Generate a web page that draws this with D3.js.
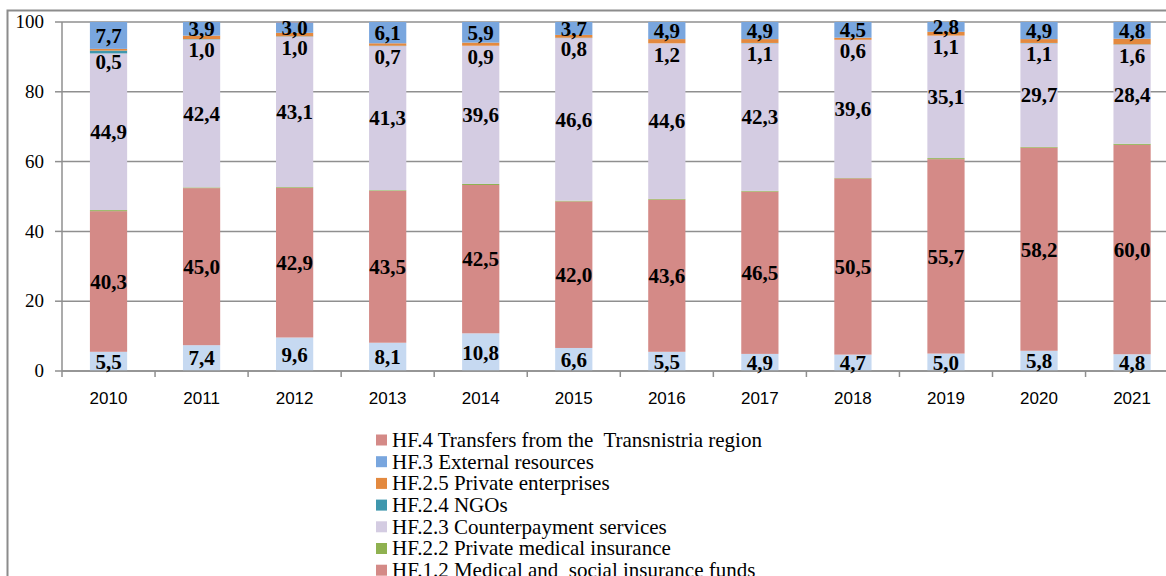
<!DOCTYPE html>
<html>
<head>
<meta charset="utf-8">
<script src="https://cdn.jsdelivr.net/npm/d3@7"></script>
<style>
  html, body { margin: 0; padding: 0; background: #fff; }
  svg { display: block; }
  text { white-space: pre; }
</style>
</head>
<body>
<svg id="chart" width="1166" height="576"></svg>
<script>
// ---- data ----
const years = ["2010","2011","2012","2013","2014","2015","2016","2017","2018","2019","2020","2021"];
const hf11 = [5.5, 7.4, 9.6, 8.1, 10.8, 6.6, 5.5, 4.9, 4.7, 5.0, 5.8, 4.8];
const hf12 = [40.3, 45.0, 42.9, 43.5, 42.5, 42.0, 43.6, 46.5, 50.5, 55.7, 58.2, 60.0];
const hf22 = [0.3, 0.2, 0.2, 0.2, 0.3, 0.2, 0.2, 0.2, 0.1, 0.3, 0.2, 0.3];
const hf23 = [44.9, 42.4, 43.1, 41.3, 39.6, 46.6, 44.6, 42.3, 39.6, 35.1, 29.7, 28.4];
const hf24 = [0.8, 0.1, 0.1, 0.1, 0.0, 0.1, 0.0, 0.1, 0.0, 0.0, 0.1, 0.1];
const hf25 = [0.5, 1.0, 1.0, 0.7, 0.9, 0.8, 1.2, 1.1, 0.6, 1.1, 1.1, 1.6];
const hf3  = [7.7, 3.9, 3.0, 6.1, 5.9, 3.7, 4.9, 4.9, 4.5, 2.8, 4.9, 4.8];
const hf4  = [0.0, 0.0, 0.1, 0.0, 0.0, 0.0, 0.0, 0.0, 0.0, 0.0, 0.0, 0.0];
const yTicks = [0, 20, 40, 60, 80, 100];

// series, bottom to top
const series = [
  {key: "hf11", name: "HF.1.1 State budget", values: hf11, color: "#c6d9f1", label: "center"},
  {key: "hf12", name: "HF.1.2 Medical and  social insurance funds", values: hf12, color: "#d48a87", label: "center"},
  {key: "hf22", name: "HF.2.2 Private medical insurance", values: hf22, color: "#8fb150", label: null},
  {key: "hf23", name: "HF.2.3 Counterpayment services", values: hf23, color: "#d4cce2", label: "center"},
  {key: "hf24", name: "HF.2.4 NGOs", values: hf24, color: "#3f97ad", label: null},
  {key: "hf25", name: "HF.2.5 Private enterprises", values: hf25, color: "#e3893f", label: "below"},
  {key: "hf3",  name: "HF.3 External resources", values: hf3, color: "#79a6de", label: "center"},
  {key: "hf4",  name: "HF.4 Transfers from the  Transnistria region", values: hf4, color: "#d48a87", label: null}
];

const rows = years.map((yr, i) => {
  const r = {year: yr};
  series.forEach(s => r[s.key] = s.values[i]);
  return r;
});
const stacked = d3.stack().keys(series.map(s => s.key))(rows);

// ---- layout ----
const svg = d3.select("#chart");
const mLeft = 62, mTop = 22, mBottom = 371;
const bandW = 93.05;
const x = d3.scaleBand().domain(years).range([mLeft, mLeft + bandW * years.length]).padding(0);
const y = d3.scaleLinear().domain([0, 100]).range([mBottom, mTop]);
const barW = x.bandwidth() * 0.4;

const fmt = v => d3.format(".1f")(v).replace(".", ",");

// outer border
svg.append("path")
  .attr("d", "M7.5,576 L7.5,10.5 L1166,10.5")
  .attr("fill", "none").attr("stroke", "#8c8c8c").attr("stroke-width", 2);

// gridlines
svg.append("g").selectAll("line").data(yTicks).join("line")
  .attr("x1", mLeft).attr("x2", x.range()[1])
  .attr("y1", d => y(d)).attr("y2", d => y(d))
  .attr("stroke", "#8f8f8f").attr("stroke-width", 1.5);

// bars
series.forEach((s, si) => {
  svg.append("g").selectAll("rect").data(stacked[si]).join("rect")
    .attr("x", d => x(d.data.year) + (x.bandwidth() - barW) / 2)
    .attr("width", barW)
    .attr("y", d => y(d[1]))
    .attr("height", d => Math.max(0, y(d[0]) - y(d[1])))
    .attr("fill", s.color);
});

// y axis
const yAxis = svg.append("g");
yAxis.append("line").attr("x1", mLeft).attr("x2", mLeft).attr("y1", y(0)).attr("y2", y(100))
  .attr("stroke", "#8f8f8f").attr("stroke-width", 1.5);
yAxis.selectAll("line.tick").data(yTicks).join("line").attr("class", "tick")
  .attr("x1", mLeft - 7).attr("x2", mLeft).attr("y1", d => y(d)).attr("y2", d => y(d))
  .attr("stroke", "#8f8f8f").attr("stroke-width", 1.5);
yAxis.selectAll("text").data(yTicks).join("text")
  .attr("x", 44).attr("y", d => y(d)).attr("dy", "0.33em")
  .attr("text-anchor", "end")
  .attr("font-family", "'Liberation Serif', 'Times New Roman', serif")
  .attr("font-size", 19).attr("fill", "#000")
  .text(d => d);

// x axis
const xAxis = svg.append("g");
xAxis.append("line").attr("x1", mLeft).attr("x2", x.range()[1]).attr("y1", y(0)).attr("y2", y(0))
  .attr("stroke", "#8f8f8f").attr("stroke-width", 1.5);
const bounds = years.map(d => x(d)).concat([x.range()[1]]);
xAxis.selectAll("line.tick").data(bounds).join("line").attr("class", "tick")
  .attr("x1", d => d).attr("x2", d => d).attr("y1", y(0)).attr("y2", y(0) + 6)
  .attr("stroke", "#8f8f8f").attr("stroke-width", 1.5);
xAxis.selectAll("text").data(years).join("text")
  .attr("x", d => x(d) + x.bandwidth() / 2).attr("y", 404)
  .attr("text-anchor", "middle")
  .attr("font-family", "'Liberation Sans', Arial, sans-serif")
  .attr("font-size", 17).attr("fill", "#000")
  .text(d => d);

// data labels
series.forEach((s, si) => {
  if (!s.label) return;
  svg.append("g").selectAll("text").data(stacked[si]).join("text")
    .attr("x", d => x(d.data.year) + x.bandwidth() / 2)
    .attr("y", d => s.label === "center" ? (y(d[0]) + y(d[1])) / 2 : y(d[0]) + 11)
    .attr("dy", "0.35em")
    .attr("text-anchor", "middle")
    .attr("font-family", "'Liberation Serif', 'Times New Roman', serif")
    .attr("font-weight", "bold")
    .attr("font-size", 21).attr("fill", "#000")
    .text((d, i) => fmt(s.values[i]));
});

// legend (reverse order)
const legendItems = series.slice().reverse();
const lg = svg.append("g");
legendItems.forEach((s, i) => {
  const cy = 440 + i * 21.7;
  lg.append("rect").attr("x", 376).attr("y", cy - 5.5).attr("width", 11).attr("height", 11).attr("fill", s.color);
  lg.append("text").attr("x", 392).attr("y", cy).attr("dy", "0.33em")
    .attr("font-family", "'Liberation Serif', 'Times New Roman', serif")
    .attr("font-size", 21).attr("fill", "#000")
    .text(s.name);
});
</script>
</body>
</html>
